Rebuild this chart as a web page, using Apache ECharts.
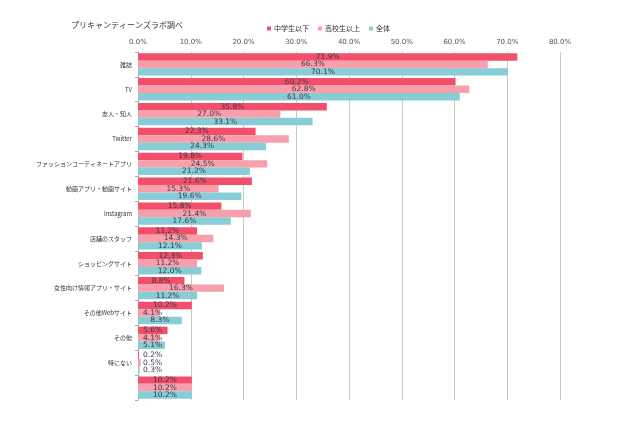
<!DOCTYPE html>
<html><head><meta charset="utf-8">
<script src="https://cdn.jsdelivr.net/npm/echarts@6/dist/echarts.min.js"></script>
<style>html,body{margin:0;padding:0;background:#fff}#c{width:640px;height:426px}</style>
</head><body><div id="c"></div>
<script>
const categories = ['雑誌','TV','友人・知人','Twitter','ファッションコーディネートアプリ','動画アプリ・動画サイト','Instagram','店舗のスタッフ','ショッピングサイト','女性向け情報アプリ・サイト','その他Webサイト','その他','特にない',''];
const seriesNames = ['中学生以下','高校生以上','全体'];
const juniorHigh = [71.9,60.2,35.8,22.3,19.8,21.6,15.8,11.2,12.3,8.8,10.2,5.6,0.2,10.2];
const highSchool = [66.3,62.8,27.0,28.6,24.5,15.3,21.4,14.3,11.2,16.3,4.1,4.1,0.5,10.2];
const overall = [70.1,61.0,33.1,24.3,21.2,19.6,17.6,12.1,12.0,11.2,8.3,5.1,0.3,10.2];
const xTicks = [0,10,20,30,40,50,60,70,80];

const colors = ['#f2506a','#f7a0ac','#86cdd6'];
function mk(vals){
  return vals.map(v => ({
    value: v,
    label: v < 6.5 ? {position:'insideLeft', distance:5} : {position:'inside'}
  }));
}
const chart = echarts.init(document.getElementById('c'));
const allVals = [juniorHigh, highSchool, overall];
chart.setOption({
  animation:false,
  title:{text:'プリキャンティーンズラボ調べ', left:66, top:16,
    textStyle:{fontSize:8, fontWeight:'normal', color:'#333', fontFamily:'Noto Sans CJK JP'}},
  legend:{data:seriesNames, left:262, top:20, itemWidth:4, itemHeight:4, itemGap:9,
    icon:'rect', textStyle:{fontSize:7, color:'#333', fontFamily:'Noto Sans CJK JP', padding:[0,0,0,-2]}},
  grid:{left:138, right:80, top:52, bottom:26},
  xAxis:{type:'value', position:'top', min:xTicks[0], max:xTicks[xTicks.length-1], interval:10,
    axisLabel:{formatter:v=>v.toFixed(1)+'%', fontSize:7, color:'#555', margin:6, fontFamily:'DejaVu Sans'},
    axisLine:{show:false}, axisTick:{show:false},
    splitLine:{show:true, lineStyle:{color:'#c8c8c8', width:1}}},
  yAxis:{type:'category', data:categories, inverse:true,
    axisLine:{show:true, lineStyle:{color:'#aaa'}},
    axisTick:{show:true, length:3, lineStyle:{color:'#aaa'}},
    axisLabel:{fontSize:6, color:'#333', margin:6, fontFamily:'Noto Sans CJK JP'}},
  series: seriesNames.map((n,i)=>({
    name:n, type:'bar', data:mk(allVals[i]), barGap:'0%', barCategoryGap:'10%',
    itemStyle:{color:colors[i]},
    label:{show:true, formatter:p=>p.value.toFixed(1)+'%', fontSize:7.5, color:'#3a3a4a', fontFamily:'DejaVu Sans'}
  }))
});
</script></body></html>
